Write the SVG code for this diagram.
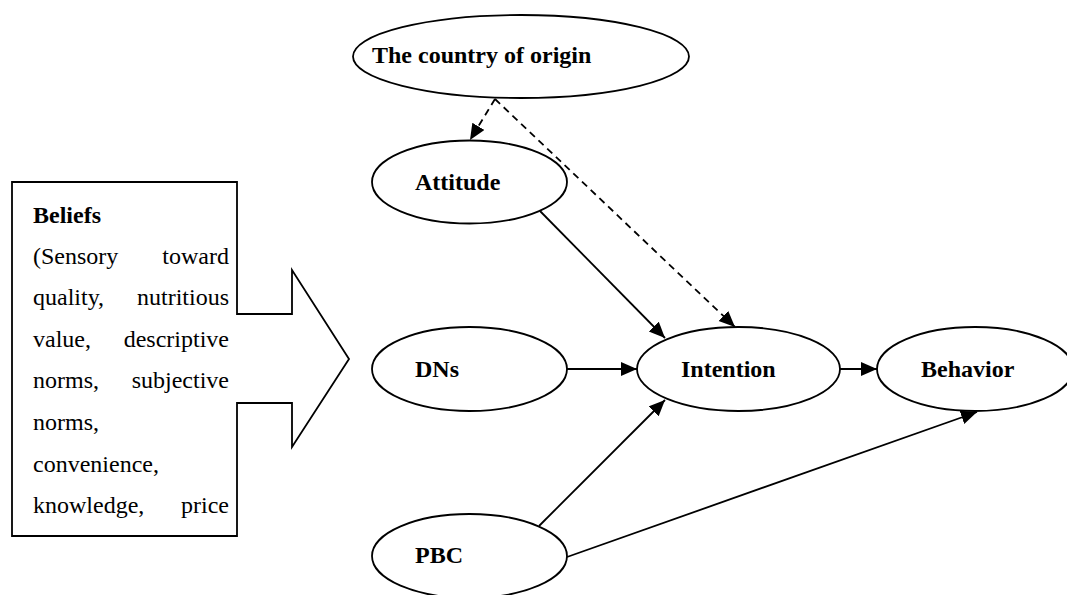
<svg xmlns="http://www.w3.org/2000/svg" width="1067" height="595" viewBox="0 0 1067 595">
  <style>
    .shape { fill: #ffffff; stroke: #000000; stroke-width: 1.8; }
    .label { font-family: "Liberation Serif", "Times New Roman", serif; font-size: 24px; font-weight: bold; fill: #000000; }
    .body { font-family: "Liberation Serif", "Times New Roman", serif; font-size: 24px; fill: #000000; }
    .edge { fill: none; stroke: #000000; stroke-width: 1.8; }
    .dashed { stroke-dasharray: 7 5; }
  </style>
  <defs>
    <marker id="arrow" markerUnits="userSpaceOnUse" markerWidth="17" markerHeight="15" refX="16" refY="7" orient="auto">
      <path d="M0,0 L16,7 L0,14 Z" fill="#000000"/>
    </marker>
  </defs>

  <rect width="1067" height="595" fill="#ffffff"/>

  <!-- Beliefs block with its pointing arrow -->
  <g id="beliefs">
    <path class="shape" d="M12,182 H237 V314 H292 V270 L349,359 L292,447 V403 H237 V536 H12 Z"/>
    <text class="label" x="33" y="223">Beliefs</text>
    <text class="body" x="33" y="264">(Sensory</text>
    <text class="body" x="229" y="264" text-anchor="end">toward</text>
    <text class="body" x="33" y="305">quality,</text>
    <text class="body" x="229" y="305" text-anchor="end">nutritious</text>
    <text class="body" x="33" y="347">value,</text>
    <text class="body" x="229" y="347" text-anchor="end">descriptive</text>
    <text class="body" x="33" y="388">norms,</text>
    <text class="body" x="229" y="388" text-anchor="end">subjective</text>
    <text class="body" x="33" y="430">norms,</text>
    <text class="body" x="33" y="472">convenience,</text>
    <text class="body" x="33" y="513">knowledge,</text>
    <text class="body" x="229" y="513" text-anchor="end">price</text>
  </g>

  <!-- Connectors -->
  <g id="connectors">
    <line class="edge dashed" x1="495" y1="99" x2="470" y2="140" marker-end="url(#arrow)"/>
    <line class="edge dashed" x1="495" y1="99" x2="735" y2="327" marker-end="url(#arrow)"/>
    <line class="edge" x1="540" y1="211" x2="665" y2="338" marker-end="url(#arrow)"/>
    <line class="edge" x1="567" y1="369" x2="637" y2="369" marker-end="url(#arrow)"/>
    <line class="edge" x1="840" y1="369" x2="877" y2="369" marker-end="url(#arrow)"/>
    <line class="edge" x1="539" y1="526" x2="665" y2="400" marker-end="url(#arrow)"/>
    <line class="edge" x1="567" y1="557" x2="977" y2="412" marker-end="url(#arrow)"/>
  </g>

  <!-- Nodes -->
  <g id="country-of-origin">
    <ellipse class="shape" cx="521" cy="56.5" rx="168" ry="41.5"/>
    <text class="label" x="372" y="63">The country of origin</text>
  </g>
  <g id="attitude">
    <ellipse class="shape" cx="469.5" cy="182" rx="97.5" ry="41.5"/>
    <text class="label" x="415" y="190">Attitude</text>
  </g>
  <g id="dns">
    <ellipse class="shape" cx="469.5" cy="369" rx="97.5" ry="42"/>
    <text class="label" x="415" y="377">DNs</text>
  </g>
  <g id="intention">
    <ellipse class="shape" cx="738.5" cy="369" rx="101.5" ry="42"/>
    <text class="label" x="681" y="377">Intention</text>
  </g>
  <g id="behavior">
    <ellipse class="shape" cx="975" cy="369" rx="98" ry="42"/>
    <text class="label" x="921" y="377">Behavior</text>
  </g>
  <g id="pbc">
    <ellipse class="shape" cx="469.5" cy="556" rx="97.5" ry="42"/>
    <text class="label" x="415" y="563">PBC</text>
  </g>
</svg>
